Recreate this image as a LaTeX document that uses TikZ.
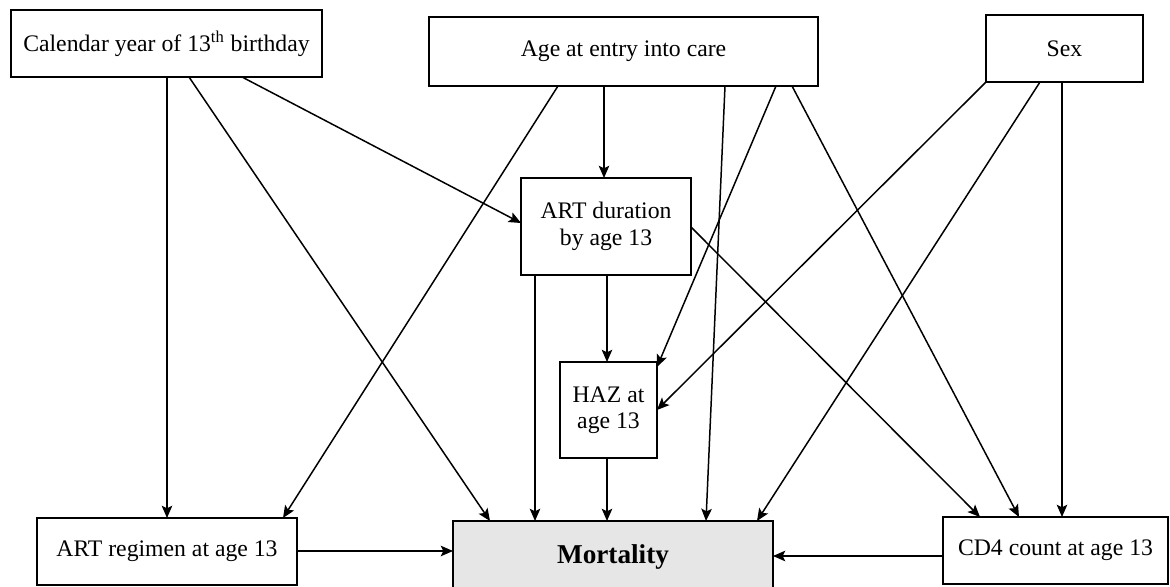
\documentclass[tikz,border=0pt]{standalone}
\usepackage{fontspec}
\setmainfont{Liberation Serif}
\usetikzlibrary{arrows.meta}
\definecolor{mortfill}{RGB}{230,230,230}
\begin{document}
\begin{tikzpicture}[x=0.02cm,y=-0.02cm,
  box/.style={draw,line width=1pt,inner sep=0pt,outer sep=0pt,align=center,
    font=\fontsize{13.5}{15}\selectfont},
  arr/.style={line width=0.85pt,-{Stealth[length=7pt,width=6pt,inset=1.5pt]}}]
\path[use as bounding box,clip] (0,0) rectangle (1170,587);
\fill[white] (0,0) rectangle (1170,587);
\node[box,minimum width=6.22cm,minimum height=1.34cm] (cal) at (166.5,43.5) {Calendar year of 13\textsuperscript{th} birthday};
\node[box,minimum width=7.78cm,minimum height=1.38cm] (age) at (623.5,51.5) {Age at entry into care};
\node[box,minimum width=3.14cm,minimum height=1.34cm] (sex) at (1064.5,48.5) {Sex};
\node[box,minimum width=3.40cm,minimum height=1.94cm] (dur) at (606,226.5) {ART duration\\by age 13};
\node[box,minimum width=1.94cm,minimum height=1.92cm] (haz) at (608.5,410) {HAZ at\\age 13};
\node[box,minimum width=5.20cm,minimum height=1.34cm] (reg) at (167,551.5) {ART regimen at age 13};
\node[box,fill=mortfill,minimum width=6.40cm,minimum height=1.44cm,font=\fontsize{15.5}{17}\selectfont\bfseries] (mort) at (613,557) {Mortality};
\node[box,minimum width=4.50cm,minimum height=1.34cm] (cd4) at (1055.5,550.5) {CD4 count at age 13};
% arrows
\draw[arr] (cal.south -| 167,0) -- (reg.north -| 167,0);
\draw[arr] (cal.south -| 189,0) -- (mort.north -| 490,0);
\draw[arr] (cal.south -| 242,0) -- (dur.west |- 0,223);
\draw[arr] (age.south -| 604,0) -- (dur.north -| 604,0);
\draw[arr] (age.south -| 558,0) -- (reg.north -| 283,0);
\draw[arr] (age.south -| 725,0) -- (mort.north -| 706,0);
\draw[arr] (age.south -| 776,0) -- (haz.east |- 0,367);
\draw[arr] (age.south -| 792,0) -- (cd4.north -| 1019,0);
\draw[arr] (sex.south west) -- (haz.east |- 0,410);
\draw[arr] (sex.south -| 1040,0) -- (mort.north -| 757,0);
\draw[arr] (sex.south -| 1062,0) -- (cd4.north -| 1062,0);
\draw[arr] (dur.south -| 535,0) -- (mort.north -| 535,0);
\draw[arr] (dur.south -| 607,0) -- (haz.north -| 607,0);
\draw[arr] (dur.east |- 0,227) -- (cd4.north -| 980,0);
\draw[arr] (haz.south -| 607,0) -- (mort.north -| 607,0);
\draw[arr] (reg.east |- 0,551) -- (mort.west |- 0,551);
\draw[arr] (cd4.west |- 0,556) -- (mort.east |- 0,556);
\end{tikzpicture}
\end{document}
